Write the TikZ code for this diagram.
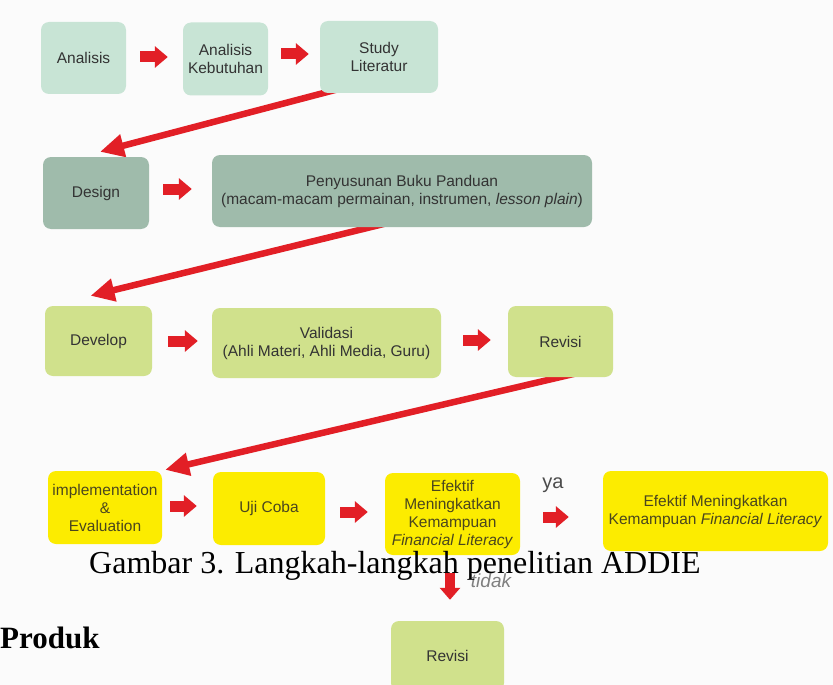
\documentclass[tikz,border=0pt]{standalone}
\usepackage{fontspec}
\setmainfont{Liberation Serif}
\newfontfamily\arialf{Liberation Sans}
\usetikzlibrary{arrows.meta,calc}
\definecolor{bgc}{HTML}{FBFBFB}
\definecolor{mintc}{HTML}{C8E4D5}
\definecolor{sagec}{HTML}{9FBBAB}
\definecolor{limec}{HTML}{D0E18C}
\definecolor{yelc}{HTML}{FCEC00}
\definecolor{redc}{HTML}{E21F26}
\definecolor{txta}{HTML}{333333}
\definecolor{txty}{HTML}{4A461E}
\pgfdeclarelayer{back}
\pgfdeclarelayer{arr}
\pgfsetlayers{back,arr,main}
\begin{document}
\begin{tikzpicture}[x=1pt,y=-1pt,
  box/.style={rounded corners=8pt, inner sep=0pt, align=center,
    font=\arialf\fontsize{15.5}{18}\selectfont, text=txta},
  boxmint/.style={box, fill=mintc},
  boxsage/.style={box, fill=sagec},
  boxlime/.style={box, fill=limec},
  boxyel/.style={box, fill=yelc, text=txty},
  blk/.style={draw=redc, line width=11pt, -{Triangle[length=13pt,width=21pt]}},
  longarr/.style={draw=redc, line width=6.5pt, -{Triangle[length=24pt,width=22pt]}}]
\begin{pgfonlayer}{back}
\fill[bgc] (0,0) rectangle (833,685);
\end{pgfonlayer}
\useasboundingbox (0,0) rectangle (833,685);
\clip (0,0) rectangle (833,685);

% row 1
\node[boxmint, minimum width=85pt, minimum height=72pt] (ana) at (83.5,58) {Analisis};
\node[boxmint, minimum width=85pt, minimum height=73pt] (keb) at (225.5,59) {Analisis\\Kebutuhan};
\node[boxmint, minimum width=118pt, minimum height=72pt] (lit) at (379,57) {Study\\Literatur};
% row 2
\node[boxsage, minimum width=106pt, minimum height=72pt] (des) at (96,193) {Design};
\node[boxsage, minimum width=380pt, minimum height=72pt] (pen) at (402,191)
  {Penyusunan Buku Panduan\\(macam-macam permainan, instrumen, \textit{lesson plain})};
% row 3
\node[boxlime, minimum width=107pt, minimum height=70pt] (dev) at (98.5,341) {Develop};
\node[boxlime, minimum width=229pt, minimum height=70pt] (val) at (326.5,343)
  {Validasi\\(Ahli Materi, Ahli Media, Guru)};
\node[boxlime, minimum width=105pt, minimum height=71pt] (rev) at (560.5,341.5) {Revisi};
% row 4
\node[boxyel, minimum width=114pt, minimum height=73pt] (imp) at (105,507.5)
  {implementation\\\&\\Evaluation};
\node[boxyel, minimum width=112pt, minimum height=73pt] (uji) at (269,508.5) {Uji Coba};
\node[boxyel, minimum width=135pt, minimum height=82pt] (efk) at (452.5,514)
  {Efektif\\Meningkatkan\\Kemampuan\\\textit{Financial Literacy}};
\node[boxyel, minimum width=225pt, minimum height=80pt] (fin) at (715.5,511)
  {Efektif Meningkatkan\\Kemampuan \textit{Financial Literacy}};
% bottom
\node[boxlime, minimum width=113pt, minimum height=70pt] (rev2) at (447.5,656) {Revisi};

% block arrows
\draw[blk] ($(ana.east)+(14,-1)$) -- ($(keb.west)+(-15,-2)$);
\draw[blk] ($(keb.east)+(13,-5)$) -- ($(lit.west)+(-11,-3)$);
\draw[blk] ($(des.east)+(14,-4)$) -- ($(pen.west)+(-20,-2)$);
\draw[blk] ($(dev.east)+(16,0)$) -- ($(val.west)+(-14,-2)$);
\draw[blk] ($(val.east)+(22,-3)$) -- ($(rev.west)+(-17,-1.5)$);
\draw[blk] ($(imp.east)+(8,-1.5)$) -- ($(uji.west)+(-16,-2.5)$);
\draw[blk] ($(uji.east)+(15,3.5)$) -- ($(efk.west)+(-17,-2)$);
\draw[blk] ($(efk.east)+(23,3)$) -- ($(fin.west)+(-34,6)$);
\draw[draw=redc, line width=10pt, -{Triangle[length=12pt,width=20pt]}]
  ($(efk.south)+(-2.5,18)$) -- ($(rev2.north)+(2.5,-21)$);

% long arrows (behind boxes)
\begin{pgfonlayer}{arr}
\draw[longarr] ($(lit.south west)+(22,-5)$) -- ($(des.north)+(4,-5)$);
\draw[longarr] ($(pen.south west)+(175,-4)$) -- ($(dev.north)+(-8,-10)$);
\draw[longarr] ($(rev.south west)+(69,-4)$) -- ($(imp.north east)+(3,-1)$);
\end{pgfonlayer}

% labels
\node[anchor=center, font=\arialf\fontsize{20}{22}\selectfont, text=black!70] (ya) at (553,485) {ya};
\node[anchor=center, font=\arialf\itshape\fontsize{19}{21}\selectfont, text=black!50] (tdk) at (491,581) {tidak};
\node[anchor=base west, inner sep=0pt, font=\fontsize{32}{34}\selectfont] (cap) at (89,573)
  {Gambar 3. Langkah-langkah penelitian ADDIE};
\node[anchor=base west, inner sep=0pt, font=\bfseries\fontsize{31}{33}\selectfont] (prod) at (0,648) {Produk};
\end{tikzpicture}
\end{document}
